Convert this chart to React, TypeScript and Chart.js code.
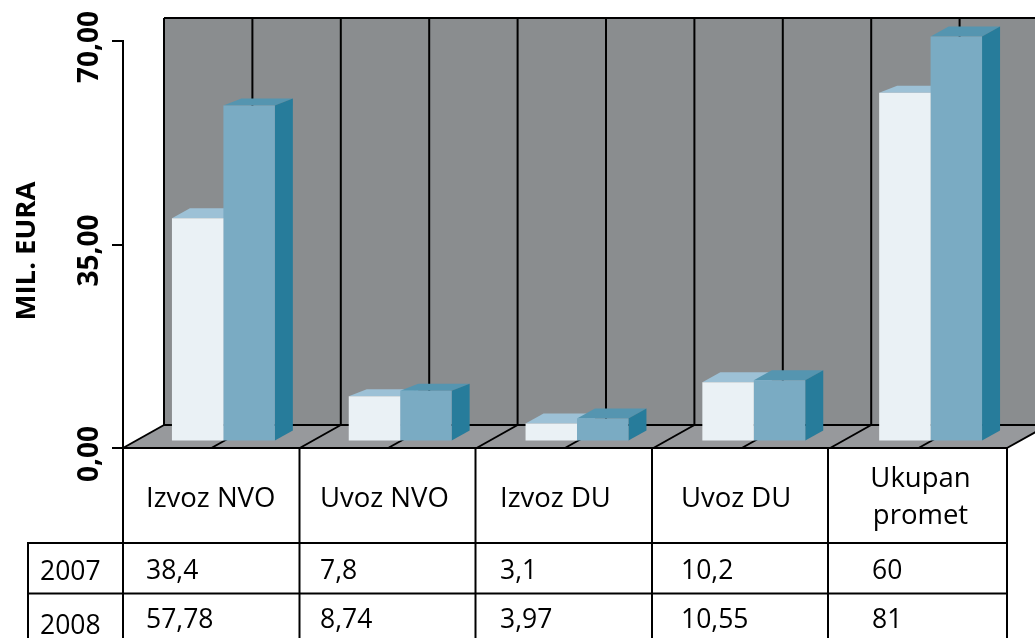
import React, { useEffect, useRef } from "react";
import { Chart, registerables } from "chart.js";

Chart.register(...registerables);

const categories = ["Izvoz NVO", "Uvoz NVO", "Izvoz DU", "Uvoz DU", "Ukupan promet"];
const series2007 = [38.4, 7.8, 3.1, 10.2, 60];
const series2008 = [57.78, 8.74, 3.97, 10.55, 81];
const labels2007 = ["38,4", "7,8", "3,1", "10,2", "60"];
const labels2008 = ["57,78", "8,74", "3,97", "10,55", "81"];
const yearLabels = ["2007", "2008"];
const axisTitle = "MIL. EURA";
const columnTextX = [146, 320, 500, 681, 872];
const tableEdges = [123, 299.5, 475.5, 652, 828, 1007];

const FONT = '"Open Sans", sans-serif';
const WALL = "#8a8d8f";
const FLOOR = "#97999c";
const LINE = "#000000";
const LW = 2;
const DEPTH_X = 41;
const DEPTH_Y = 23;
const SHIFT_X = 12;
const SHIFT_Y = -6.5;
const BAR_DX = 18;
const CLIP_TOP = 2;

const faceColors = [
  { top: "#9dc1d6", side: "#9dc1d6", depth: [10, 7, 10, 10, 7] },
  { top: "#5595b0", side: "#277c9b", depth: [7, 7, 10, 10, 10] },
];

function line(ctx: CanvasRenderingContext2D, x1: number, y1: number, x2: number, y2: number) {
  ctx.beginPath();
  ctx.moveTo(x1, y1);
  ctx.lineTo(x2, y2);
  ctx.stroke();
}

const scenePlugin = {
  id: "scene",
  beforeDraw(chart: any) {
    const { ctx, chartArea: a, scales } = chart;
    const bottom = a.bottom;
    const wallTop = 18;
    const wallBottom = bottom - DEPTH_Y;
    ctx.save();
    ctx.fillStyle = WALL;
    ctx.fillRect(a.left + DEPTH_X, wallTop, 1035, wallBottom - wallTop);
    ctx.fillStyle = FLOOR;
    ctx.beginPath();
    ctx.moveTo(a.left, bottom);
    ctx.lineTo(a.left + DEPTH_X, wallBottom);
    ctx.lineTo(a.right + DEPTH_X, wallBottom);
    ctx.lineTo(a.right, bottom);
    ctx.closePath();
    ctx.fill();
    ctx.strokeStyle = LINE;
    ctx.lineWidth = LW;
    line(ctx, a.left + DEPTH_X, wallTop, 1035, wallTop);
    line(ctx, a.left + DEPTH_X, wallBottom, a.right + DEPTH_X, wallBottom);
    const half = scales.x.width / categories.length / 2;
    for (let i = 0; i <= categories.length * 2; i++) {
      const x = a.left + i * half;
      line(ctx, x, bottom, x + DEPTH_X, wallBottom);
      line(ctx, x + DEPTH_X, wallBottom, x + DEPTH_X, wallTop);
    }
    ctx.restore();
  },
  beforeDatasetsDraw(chart: any) {
    const { ctx, chartArea: a } = chart;
    ctx.save();
    ctx.translate(SHIFT_X, SHIFT_Y);
    chart.data.datasets.forEach((_: any, d: number) => {
      const meta = chart.getDatasetMeta(d);
      meta.data.forEach((bar: any, i: number) => {
        const half = bar.width / 2;
        const top = Math.max(bar.y, a.top + CLIP_TOP);
        const l = bar.x - half;
        const r = bar.x + half;
        const dy = faceColors[d].depth[i];
        ctx.fillStyle = faceColors[d].top;
        ctx.beginPath();
        ctx.moveTo(l, top);
        ctx.lineTo(l + BAR_DX, top - dy);
        ctx.lineTo(r + BAR_DX, top - dy);
        ctx.lineTo(r, top);
        ctx.closePath();
        ctx.fill();
        ctx.fillStyle = faceColors[d].side;
        ctx.beginPath();
        ctx.moveTo(r, top);
        ctx.lineTo(r + BAR_DX, top - dy);
        ctx.lineTo(r + BAR_DX, bar.base - 10);
        ctx.lineTo(r, bar.base);
        ctx.closePath();
        ctx.fill();
      });
    });
  },
  afterDatasetsDraw(chart: any) {
    chart.ctx.restore();
  },
  afterDraw(chart: any) {
    const { ctx, chartArea: a, scales } = chart;
    ctx.save();
    ctx.fillStyle = "#000";
    ctx.textBaseline = "alphabetic";

    // rotated value-axis labels and axis title
    ctx.font = `bold 28px ${FONT}`;
    ctx.textAlign = "center";
    scales.y.ticks.forEach((t: any, i: number) => {
      ctx.save();
      ctx.translate(98, scales.y.getPixelForTick(i) + 6);
      ctx.rotate(-Math.PI / 2);
      ctx.fillText(t.label, 0, 0);
      ctx.restore();
    });
    ctx.save();
    ctx.font = `bold 27.5px ${FONT}`;
    ctx.translate(34.5, (a.top + a.bottom) / 2 + 6.5);
    ctx.rotate(-Math.PI / 2);
    ctx.fillText(axisTitle, 0, 0);
    ctx.restore();

    // data table
    const rowY = [543, 593.5];
    const h = 638;
    ctx.strokeStyle = LINE;
    ctx.lineWidth = LW;
    tableEdges.forEach((x: number) => line(ctx, x, a.bottom, x, h));
    line(ctx, 28, rowY[0], 28, h);
    rowY.forEach((y) => line(ctx, 27, y, a.right + 1, y));

    ctx.textAlign = "left";
    categories.forEach((c, i) => {
      ctx.font = `27.5px ${FONT}`;
      if (i === categories.length - 1) {
        ctx.textAlign = "center";
        const parts = c.split(" ");
        ctx.fillText(parts[0], 920.5, 487);
        ctx.fillText(parts[1], 920.5, 524);
        ctx.textAlign = "left";
      } else {
        ctx.fillText(c, columnTextX[i], 507);
      }
      ctx.font = `26.5px ${FONT}`;
      ctx.fillText(labels2007[i], columnTextX[i], 579);
      ctx.fillText(labels2008[i], columnTextX[i], 628);
    });
    ctx.fillText(yearLabels[0], 40, 580);
    ctx.fillText(yearLabels[1], 40, 634);
    ctx.restore();
  },
};

export default function App() {
  const ref = useRef<HTMLCanvasElement>(null);
  useEffect(() => {
    document.body.style.margin = "0";
    const clip = { left: 60, right: 60, top: -CLIP_TOP, bottom: 60 };
    const chart = new Chart(ref.current!, {
      type: "bar",
      data: {
        labels: categories,
        datasets: [
          { label: "2007", data: series2007, backgroundColor: "#eaf1f5", clip },
          { label: "2008", data: series2008, backgroundColor: "#7aabc3", clip },
        ],
      },
      options: {
        animation: false,
        responsive: false,
        events: [],
        layout: { padding: { top: 41, right: 28, left: 0, bottom: 0 } },
        datasets: { bar: { categoryPercentage: 0.582, barPercentage: 1 } },
        plugins: { legend: { display: false }, tooltip: { enabled: false }, title: { display: false } },
        scales: {
          x: {
            grid: { display: false },
            border: { color: LINE, width: LW },
            ticks: { display: false },
            afterFit: (s: any) => { s.height = 190; },
          },
          y: {
            min: 0,
            max: 70,
            ticks: {
              display: false,
              stepSize: 35,
              callback: (v: any) => Number(v).toFixed(2).replace(".", ","),
            },
            grid: { drawOnChartArea: false, drawTicks: true, tickLength: 11, color: LINE, lineWidth: LW },
            border: { color: LINE, width: LW },
            afterFit: (s: any) => { s.width = 123; },
          },
        },
      } as any,
      plugins: [scenePlugin],
    });
    return () => chart.destroy();
  }, []);
  return <canvas ref={ref} width={1035} height={638} style={{ display: "block" }} />;
}
